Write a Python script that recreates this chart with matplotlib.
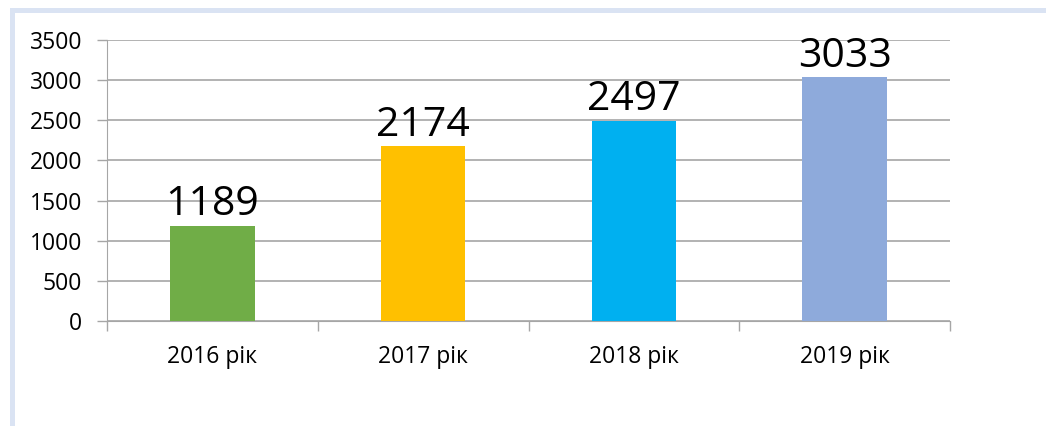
import matplotlib.pyplot as plt
from matplotlib.patches import Rectangle
import numpy as np

# Дані
years = ['2016 рік', '2017 рік', '2018 рік', '2019 рік']
values = [1189, 2174, 2497, 3033]
colors = ['#70ad47', '#ffc000', '#00b0f0', '#8eaadb']

plt.rcParams['font.family'] = ['Open Sans', 'DejaVu Sans']

W, H = 1046, 426
fig = plt.figure(figsize=(W / 100, H / 100), dpi=100)

# світло-блакитна рамка зверху та зліва
fig.add_artist(Rectangle((10 / W, 0), 5 / W, (H - 8) / H, transform=fig.transFigure,
                         color='#dae3f3', lw=0))
fig.add_artist(Rectangle((10 / W, (H - 13) / H), (W - 10) / W, 5 / H, transform=fig.transFigure,
                         color='#dae3f3', lw=0))

ax = fig.add_axes([107 / W, (H - 321) / H, (950 - 107) / W, (321 - 40) / H])

x = np.arange(len(years))
bars = ax.bar(x, values, width=0.4, color=colors, zorder=3)

for b, v in zip(bars, values):
    ax.annotate(str(v), (b.get_x() + b.get_width() / 2, v), xytext=(0, 7.5),
                textcoords='offset points', ha='center', va='baseline',
                fontsize=29.5, color='black', zorder=4)

ax.set_xlim(-0.5, len(years) - 0.5)
ax.set_ylim(0, 3500)
ax.set_yticks(range(0, 3501, 500))
ax.set_xticks(x)
ax.set_xticklabels(years, fontsize=16.5)
ax.set_xticks(np.arange(-0.5, len(years), 1), minor=True)
ax.tick_params(axis='x', which='major', length=0, pad=17)
ax.tick_params(axis='x', which='minor', length=7, color='#a6a6a6', width=1)
ax.tick_params(axis='y', length=7, color='#a6a6a6', width=1, labelsize=16.5, pad=11)

ax.grid(axis='y', color='#a6a6a6', lw=1.2, zorder=0)
for s in ['top', 'right']:
    ax.spines[s].set_visible(False)
ax.spines['left'].set_color('#a6a6a6')
ax.spines['bottom'].set_color('#a6a6a6')

fig.savefig('out.png', dpi=100)
